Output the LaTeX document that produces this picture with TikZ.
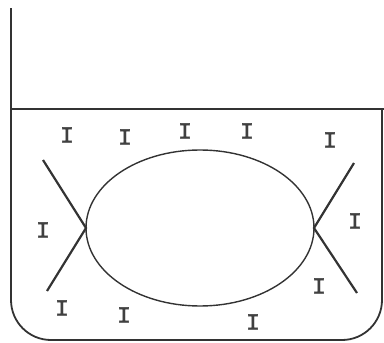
\documentclass[tikz,border=0pt]{standalone}
\usepackage{fontspec}
\newfontfamily\ionfont{Liberation Mono}[FakeBold=1.5]
\begin{document}
\begin{tikzpicture}[x=1pt,y=-1pt,
  ink/.style={draw=black!80},
  wall/.style={ink,line width=1.8pt},
  xline/.style={ink,line width=2.2pt},
  ion/.style={text=black!75,font=\ionfont\fontsize{23}{23}\selectfont,inner sep=0pt}]
\useasboundingbox (0,0) rectangle (384,343);
\draw[wall,rounded corners=40pt] (11,8) -- (11,340) -- (382,340) -- (382,109);
\draw[wall] (11,109) -- (384,109);
\draw[ink,line width=1.4pt] (200,228) ellipse [x radius=114, y radius=78];
\coordinate (L) at (86,228);
\coordinate (R) at (314,228);
\coordinate (la) at (43,160);
\coordinate (lb) at (47,291);
\coordinate (ra) at (354,163);
\coordinate (rb) at (357,293);
\draw[xline] (la) -- (L) -- (lb);
\draw[xline] (ra) -- (R) -- (rb);
\node[ion] (i1) at (67,135) {I};
\node[ion] (i2) at (125,137) {I};
\node[ion] (i3) at (185,131) {I};
\node[ion] (i4) at (247,131) {I};
\node[ion] (i5) at (330,140) {I};
\node[ion] (i6) at (43,230) {I};
\node[ion] (i7) at (355,221) {I};
\node[ion] (i8) at (319,286) {I};
\node[ion] (i9) at (62,308) {I};
\node[ion] (i10) at (124,315) {I};
\node[ion] (i11) at (253,322) {I};
\end{tikzpicture}
\end{document}
